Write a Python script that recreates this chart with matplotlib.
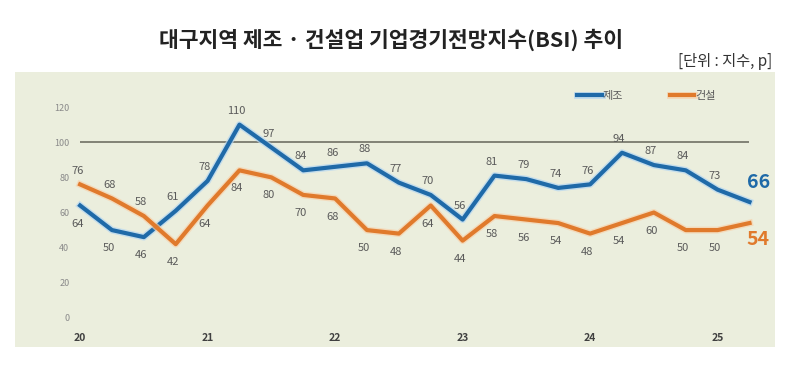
import matplotlib
matplotlib.use('Agg')
import matplotlib.pyplot as plt
import matplotlib.patheffects as pe
from matplotlib.patches import Rectangle

plt.rcParams['font.family'] = ['Noto Sans CJK KR', 'DejaVu Sans']

# 분기별 BSI (2020 1Q ~ 2025 2Q)
manu = [64, 50, 46, 61, 78, 110, 97, 84, 86, 88, 77, 70, 56, 81, 79, 74, 76, 94, 87, 84, 73, 66]
cons = [76, 68, 58, 42, 64, 84, 80, 70, 68, 50, 48, 64, 44, 58, 56, 54, 48, 54, 60, 50, 50, 54]
# 라벨 위치 (a: 위, b: 아래)
manu_pos = ['b', 'b', 'b', 'a', 'a', 'a', 'a', 'a', 'a', 'a', 'a', 'a', 'a', 'a', 'a', 'a', 'a', 'a', 'a', 'a', 'a']
cons_pos = ['a', 'a', 'a', 'b', 'b', 'b', 'b', 'b', 'b', 'b', 'b', 'b', 'b', 'b', 'b', 'b', 'b', 'b', 'b', 'b', 'b']
year_idx = [0, 4, 8, 12, 16, 20]
year_lab = ['20', '21', '22', '23', '24', '25']
yticks = [0, 20, 40, 60, 80, 100, 120]

blue = '#1f6aa8'
orange = '#e07a2c'
panel = '#ebeedd'
W, H = 804, 365

fig = plt.figure(figsize=(W / 100, H / 100), dpi=100)
fig.patch.set_facecolor('white')
bg = Rectangle((15 / W, 18 / H), 760 / W, 275 / H, transform=fig.transFigure,
               facecolor=panel, edgecolor='none', zorder=-5)
fig.add_artist(bg)

ax = fig.add_axes([75 / W, 40 / H, 700 / W, 245 / H])
ax.set_zorder(1)
ax.patch.set_alpha(0)
x = list(range(len(manu)))
ax.set_xlim(-0.16, 21.8)
ax.set_ylim(-4, 135.4)

ax.hlines(100, 0, len(manu) - 1, color='#7a7a6e', lw=1.3, zorder=1)

glow_b = [pe.Stroke(linewidth=5, foreground='#b4d6f2', alpha=0.7), pe.Normal()]
glow_o = [pe.Stroke(linewidth=5, foreground='#f7d2ad', alpha=0.7), pe.Normal()]
ax.plot(x, manu, color=blue, lw=3, label='제조', path_effects=glow_b, zorder=3)
ax.plot(x, cons, color=orange, lw=3, label='건설', path_effects=glow_o, zorder=3)

for i in range(len(manu) - 1):
    dy = 10 if manu_pos[i] == 'a' else -13
    ax.annotate(str(manu[i]), (x[i], manu[i]), xytext=(-2, dy), textcoords='offset points',
                ha='center', va='center', fontsize=8, color='#5a5a5a')
    dy = 10 if cons_pos[i] == 'a' else -13
    ax.annotate(str(cons[i]), (x[i], cons[i]), xytext=(-2, dy), textcoords='offset points',
                ha='center', va='center', fontsize=8, color='#5a5a5a')

ax.annotate(str(manu[-1]), (x[-1], manu[-1]), xytext=(-2, 14), textcoords='offset points',
            ha='left', va='center', fontsize=14, fontweight='bold', color=blue)
ax.annotate(str(cons[-1]), (x[-1], cons[-1]), xytext=(-2, -12), textcoords='offset points',
            ha='left', va='center', fontsize=14, fontweight='bold', color=orange)

ax.set_yticks(yticks)
ax.set_yticklabels([str(v) for v in yticks])
ax.set_xticks(year_idx)
ax.set_xticklabels(year_lab)
ax.tick_params(axis='y', length=0, labelsize=6.5, labelcolor='#8a8a8a', pad=4)
ax.tick_params(axis='x', length=0, labelsize=7.5, labelcolor='#404040', pad=6)
for t in ax.get_xticklabels():
    t.set_fontweight('bold')
for s in ax.spines.values():
    s.set_visible(False)

leg = ax.legend(loc='upper right', bbox_to_anchor=(0.93, 0.995), ncol=2, frameon=False,
                fontsize=8, handlelength=2.2, handletextpad=0.1, columnspacing=4.2)
for t in leg.get_texts():
    t.set_color('#5a5a5a')

fig.text(391 / W, 1 - 40 / H, '대구지역 제조 · 건설업 기업경기전망지수(BSI) 추이', ha='center', va='center',
         fontsize=15.5, fontweight='bold', color='#222222')
fig.text(772 / W, 1 - 61 / H, '[단위 : 지수, p]', ha='right', va='center', fontsize=11, color='#333333')

fig.savefig('out.png', dpi=100, facecolor='white')
